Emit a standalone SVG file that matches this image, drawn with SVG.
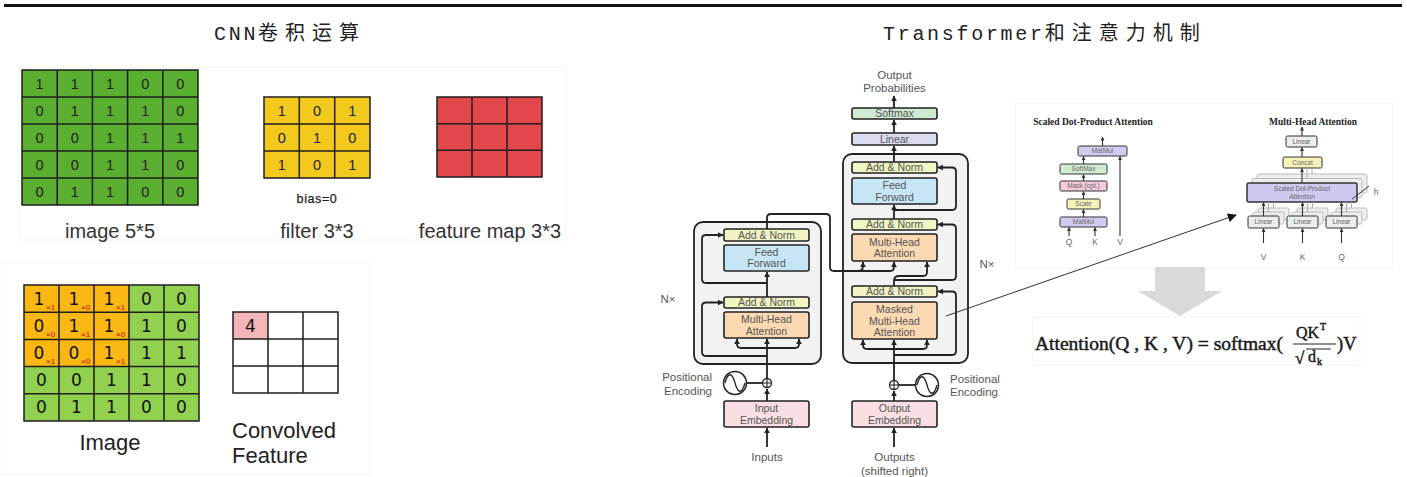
<svg xmlns="http://www.w3.org/2000/svg" width="1407" height="477" viewBox="0 0 1407 477">
<defs>
<marker id="ah" viewBox="0 0 10 10" refX="9" refY="5" markerUnits="userSpaceOnUse" markerWidth="6" markerHeight="6" orient="auto"><path d="M0,0 L10,5 L0,10 z" fill="#222"/></marker>
<marker id="ahs" viewBox="0 0 10 10" refX="9" refY="5" markerUnits="userSpaceOnUse" markerWidth="4" markerHeight="4" orient="auto"><path d="M0,0 L10,5 L0,10 z" fill="#333"/></marker>
<marker id="ahb" viewBox="0 0 10 10" refX="9" refY="5" markerUnits="userSpaceOnUse" markerWidth="11" markerHeight="9" orient="auto"><path d="M0,0 L10,5 L0,10 z" fill="#111"/></marker>
</defs>
<style>
.sans{font-family:"Liberation Sans",Arial,sans-serif}
.title{font-family:"Liberation Mono","Noto Sans CJK SC",monospace;font-size:20px;fill:#222}
.cjk{font-family:"Noto Sans CJK SC",sans-serif;font-size:20px;letter-spacing:7px}
.grid{fill:none;stroke:#1e1e1e;stroke-width:1.5}
.d1{font-family:"Liberation Sans",Arial,sans-serif;font-size:14.5px;fill:#222;text-anchor:middle}
.d2{font-family:"DejaVu Sans",sans-serif;font-size:17px;fill:#111;text-anchor:middle}
.x{font-family:"Liberation Sans",Arial,sans-serif;font-size:8px;fill:#c00000}
.lab{font-family:"Liberation Sans",Arial,sans-serif;font-size:20px;fill:#333;text-anchor:middle}
.big{font-family:"Liberation Sans",Arial,sans-serif;font-size:22px;fill:#222}
.blk{fill:#f2f2f2;stroke:#222;stroke-width:1.8}
.bx{stroke:#222;stroke-width:1.6}
.an{fill:#f1f4c3}
.ff{fill:#c7e6f5}
.mh{fill:#fbd9b2}
.em{fill:#f9dfe4}
.ln{fill:#dcdcf1}
.sm{fill:#cfe9d3}
.tb{font-family:"Liberation Sans",Arial,sans-serif;font-size:10.5px;fill:#555;text-anchor:middle}
.tl{font-family:"Liberation Sans",Arial,sans-serif;font-size:11.5px;fill:#555}
.c{fill:none;stroke:#222;stroke-width:1.8}
.cs{fill:none;stroke:#333;stroke-width:1.1}
.cf{fill:none;stroke:#aaa;stroke-width:1}
.ab{stroke:#333;stroke-width:1}
.sh{fill:#eeeeee;stroke:#bbb;stroke-width:1}
.ta{font-family:"Liberation Sans",Arial,sans-serif;font-size:6.5px;fill:#666;text-anchor:middle}
.tq{font-family:"Liberation Sans",Arial,sans-serif;font-size:8.5px;fill:#666;text-anchor:middle}
.ht{font-family:"Liberation Serif","Times New Roman",serif;font-size:9.5px;font-weight:bold;fill:#222;text-anchor:middle}
.fm{font-family:"Liberation Serif","Times New Roman",serif;fill:#1a1a1a;stroke:#1a1a1a;stroke-width:0.45}
.panel{fill:#fff;stroke:#f3f3f3;stroke-width:1}
</style>
<rect width="1407" height="477" fill="#fff"/>
<line x1="4" y1="5.5" x2="1402" y2="5.5" stroke="#111" stroke-width="3"/>

<!-- faint panels -->
<rect class="panel" x="19" y="67" width="547" height="173"/>
<rect class="panel" x="0" y="262" width="370" height="212"/>
<rect class="panel" x="1015" y="103" width="378" height="165"/>
<rect class="panel" x="1033" y="317" width="327" height="48"/>

<!-- titles -->
<g id="title-cnn"><text class="title" x="214" y="40"><tspan letter-spacing="2.7">CNN</tspan><tspan class="cjk">卷积运算</tspan></text></g>
<g id="title-transformer"><text class="title" x="883" y="40"><tspan letter-spacing="2.7">Transformer</tspan><tspan class="cjk">和注意力机制</tspan></text></g>

<!-- CNN top -->
<g id="image-5x5">
<rect x="22" y="70" width="176" height="135" fill="#5aae30"/>
<path class="grid" d="M22,70 H198 V205 H22 Z M57.2,70 V205 M92.4,70 V205 M127.6,70 V205 M162.8,70 V205 M22,97 H198 M22,124 H198 M22,151 H198 M22,178 H198"/>
<text class="d1" y="89"><tspan x="39.6">1</tspan><tspan x="74.8">1</tspan><tspan x="110">1</tspan><tspan x="145.2">0</tspan><tspan x="180.4">0</tspan></text>
<text class="d1" y="116"><tspan x="39.6">0</tspan><tspan x="74.8">1</tspan><tspan x="110">1</tspan><tspan x="145.2">1</tspan><tspan x="180.4">0</tspan></text>
<text class="d1" y="143"><tspan x="39.6">0</tspan><tspan x="74.8">0</tspan><tspan x="110">1</tspan><tspan x="145.2">1</tspan><tspan x="180.4">1</tspan></text>
<text class="d1" y="170"><tspan x="39.6">0</tspan><tspan x="74.8">0</tspan><tspan x="110">1</tspan><tspan x="145.2">1</tspan><tspan x="180.4">0</tspan></text>
<text class="d1" y="197"><tspan x="39.6">0</tspan><tspan x="74.8">1</tspan><tspan x="110">1</tspan><tspan x="145.2">0</tspan><tspan x="180.4">0</tspan></text>
<text class="lab" x="110" y="238">image 5*5</text>
</g>
<g id="filter-3x3">
<rect x="264" y="97" width="106" height="81" fill="#f4c91e"/>
<path class="grid" d="M264,97 H370 V178 H264 Z M299.3,97 V178 M334.7,97 V178 M264,124 H370 M264,151 H370"/>
<text class="d1" y="116"><tspan x="281.7">1</tspan><tspan x="317">0</tspan><tspan x="352.3">1</tspan></text>
<text class="d1" y="143"><tspan x="281.7">0</tspan><tspan x="317">1</tspan><tspan x="352.3">0</tspan></text>
<text class="d1" y="170"><tspan x="281.7">1</tspan><tspan x="317">0</tspan><tspan x="352.3">1</tspan></text>
<text class="sans" x="317" y="203" font-size="12.5" fill="#222" text-anchor="middle" letter-spacing="0.6" stroke="#222" stroke-width="0.25">bias=0</text>
<text class="lab" x="317" y="238">filter 3*3</text>
</g>
<g id="feature-map-3x3">
<rect x="437" y="97" width="105" height="80" fill="#e2474b"/>
<path class="grid" d="M437,97 H542 V177 H437 Z M472,97 V177 M507,97 V177 M437,123.7 H542 M437,150.3 H542"/>
<text class="lab" x="490" y="238">feature map 3*3</text>
</g>

<!-- CNN bottom -->
<g id="image-conv">
<rect x="24" y="285" width="175" height="136" fill="#92d050"/>
<rect x="24" y="285" width="105" height="81.6" fill="#fbb812"/>
<path class="grid" d="M24,285 H199 V421 H24 Z M59,285 V421 M94,285 V421 M129,285 V421 M164,285 V421 M24,312.2 H199 M24,339.4 H199 M24,366.6 H199 M24,393.8 H199" stroke="#333"/>
<text class="d2" y="304.6"><tspan x="39">1</tspan><tspan x="74">1</tspan><tspan x="109">1</tspan><tspan x="146.5">0</tspan><tspan x="181.5">0</tspan></text>
<text class="d2" y="331.8"><tspan x="39">0</tspan><tspan x="74">1</tspan><tspan x="109">1</tspan><tspan x="146.5">1</tspan><tspan x="181.5">0</tspan></text>
<text class="d2" y="359"><tspan x="39">0</tspan><tspan x="74">0</tspan><tspan x="109">1</tspan><tspan x="146.5">1</tspan><tspan x="181.5">1</tspan></text>
<text class="d2" y="386.2"><tspan x="41.5">0</tspan><tspan x="76.5">0</tspan><tspan x="111.5">1</tspan><tspan x="146.5">1</tspan><tspan x="181.5">0</tspan></text>
<text class="d2" y="413.4"><tspan x="41.5">0</tspan><tspan x="76.5">1</tspan><tspan x="111.5">1</tspan><tspan x="146.5">0</tspan><tspan x="181.5">0</tspan></text>
<text class="x" y="309.5"><tspan x="46">×1</tspan><tspan x="81">×0</tspan><tspan x="116">×1</tspan></text>
<text class="x" y="336.7"><tspan x="46">×0</tspan><tspan x="81">×1</tspan><tspan x="116">×0</tspan></text>
<text class="x" y="363.9"><tspan x="46">×1</tspan><tspan x="81">×0</tspan><tspan x="116">×1</tspan></text>
<text class="big" x="110" y="450" text-anchor="middle">Image</text>
</g>
<g id="convolved-feature">
<rect x="233" y="312" width="105" height="81" fill="#fff"/>
<rect x="233" y="312" width="35" height="27" fill="#f4b5b9"/>
<path class="grid" d="M233,312 H338 V393 H233 Z M268,312 V393 M303,312 V393 M233,339 H338 M233,366 H338" stroke="#333"/>
<text class="d2" x="250.5" y="332">4</text>
<text class="big" x="232" y="438">Convolved</text>
<text class="big" x="232" y="463">Feature</text>
</g>

<!-- Transformer encoder -->
<g id="encoder">
<rect class="blk" x="694" y="222" width="127" height="142" rx="9"/>
<text class="tl" x="668" y="303" text-anchor="middle">N×</text>
</g>
<g id="enc-addnorm-top"><rect class="bx an" x="724" y="229" width="85" height="12" rx="2"/><text class="tb" x="766.5" y="238.8">Add &amp; Norm</text></g>
<g id="enc-feedforward"><rect class="bx ff" x="724" y="245" width="85" height="26" rx="2"/><text class="tb" x="766.5" y="256">Feed</text><text class="tb" x="766.5" y="267">Forward</text></g>
<g id="enc-addnorm-low"><rect class="bx an" x="724" y="297" width="85" height="11" rx="2"/><text class="tb" x="766.5" y="306.3">Add &amp; Norm</text></g>
<g id="enc-mha"><rect class="bx mh" x="724" y="312" width="85" height="26" rx="2"/><text class="tb" x="766.5" y="323">Multi-Head</text><text class="tb" x="766.5" y="334.5">Attention</text></g>
<g id="enc-posenc">
<circle cx="735" cy="383" r="11.5" fill="#fff" stroke="#222" stroke-width="1.5"/>
<path d="M725,383 C728,372 732,372 735,383 C738,394 742,394 745,383" fill="none" stroke="#222" stroke-width="1.3"/>
<text class="tl" x="712" y="381" text-anchor="end">Positional</text>
<text class="tl" x="712" y="395" text-anchor="end">Encoding</text>
</g>
<g id="enc-plus"><circle cx="767" cy="383" r="4.5" fill="#fff" stroke="#222" stroke-width="1.3"/><path d="M762.5,383 H771.5 M767,378.5 V387.5" stroke="#222" stroke-width="1.1"/></g>
<g id="enc-embedding"><rect class="bx em" x="724" y="401" width="85" height="26" rx="2"/><text class="tb" x="766.5" y="412">Input</text><text class="tb" x="766.5" y="423.5">Embedding</text></g>
<g id="enc-inputs"><text class="tl" x="767" y="461" text-anchor="middle">Inputs</text></g>

<!-- Transformer decoder -->
<g id="decoder">
<rect class="blk" x="843" y="154" width="125" height="209" rx="9"/>
<text class="tl" x="987" y="268" text-anchor="middle">N×</text>
</g>
<g id="dec-output-prob"><text class="tl" x="894.5" y="79" text-anchor="middle">Output</text><text class="tl" x="894.5" y="92" text-anchor="middle">Probabilities</text></g>
<g id="dec-softmax"><rect class="bx sm" x="852" y="108" width="85" height="11" rx="2"/><text class="tb" x="894.5" y="117.3">Softmax</text></g>
<g id="dec-linear"><rect class="bx ln" x="852" y="133" width="85" height="12" rx="2"/><text class="tb" x="894.5" y="142.8">Linear</text></g>
<g id="dec-addnorm-top"><rect class="bx an" x="852" y="162" width="85" height="11" rx="2"/><text class="tb" x="894.5" y="171.3">Add &amp; Norm</text></g>
<g id="dec-feedforward"><rect class="bx ff" x="852" y="178" width="85" height="26" rx="2"/><text class="tb" x="894.5" y="189">Feed</text><text class="tb" x="894.5" y="200.5">Forward</text></g>
<g id="dec-addnorm-mid"><rect class="bx an" x="852" y="219" width="85" height="11" rx="2"/><text class="tb" x="894.5" y="228.3">Add &amp; Norm</text></g>
<g id="dec-mha"><rect class="bx mh" x="852" y="234" width="85" height="27" rx="2"/><text class="tb" x="894.5" y="245.5">Multi-Head</text><text class="tb" x="894.5" y="257">Attention</text></g>
<g id="dec-addnorm-low"><rect class="bx an" x="852" y="286" width="85" height="11" rx="2"/><text class="tb" x="894.5" y="295.3">Add &amp; Norm</text></g>
<g id="dec-masked-mha"><rect class="bx mh" x="852" y="302" width="85" height="37" rx="2"/><text class="tb" x="894.5" y="313">Masked</text><text class="tb" x="894.5" y="324.5">Multi-Head</text><text class="tb" x="894.5" y="336">Attention</text></g>
<g id="dec-plus"><circle cx="894" cy="385" r="4.5" fill="#fff" stroke="#222" stroke-width="1.3"/><path d="M889.5,385 H898.5 M894,380.5 V389.5" stroke="#222" stroke-width="1.1"/></g>
<g id="dec-posenc">
<circle cx="927" cy="385" r="11.5" fill="#fff" stroke="#222" stroke-width="1.5"/>
<path d="M917,385 C920,374 924,374 927,385 C930,396 934,396 937,385" fill="none" stroke="#222" stroke-width="1.3"/>
<text class="tl" x="950" y="383">Positional</text>
<text class="tl" x="950" y="396">Encoding</text>
</g>
<g id="dec-embedding"><rect class="bx em" x="852" y="401" width="85" height="26" rx="2"/><text class="tb" x="894.5" y="412">Output</text><text class="tb" x="894.5" y="423.5">Embedding</text></g>
<g id="dec-outputs"><text class="tl" x="894.5" y="461" text-anchor="middle">Outputs</text><text class="tl" x="894.5" y="475" text-anchor="middle">(shifted right)</text></g>

<!-- Scaled dot-product attention -->
<g id="sdpa-title"><text class="ht" x="1093" y="125">Scaled Dot-Product Attention</text></g>
<g id="sdpa-matmul-top"><rect class="ab" x="1078" y="146" width="49" height="10" rx="1.5" fill="#d2cbef"/><text class="ta" x="1102.5" y="153.3">MatMul</text></g>
<g id="sdpa-softmax"><rect class="ab" x="1060" y="164" width="47" height="10" rx="1.5" fill="#d1ebd3"/><text class="ta" x="1083.5" y="171.3">SoftMax</text></g>
<g id="sdpa-mask"><rect class="ab" x="1060" y="181" width="47" height="10" rx="1.5" fill="#f4c9dd"/><text class="ta" x="1083.5" y="188.3">Mask (opt.)</text></g>
<g id="sdpa-scale"><rect class="ab" x="1067" y="199" width="33" height="10" rx="1.5" fill="#f7f2ba"/><text class="ta" x="1083.5" y="206.3">Scale</text></g>
<g id="sdpa-matmul-bottom"><rect class="ab" x="1060" y="217" width="47" height="10" rx="1.5" fill="#d2cbef"/><text class="ta" x="1083.5" y="224.3">MatMul</text></g>
<g id="sdpa-inputs"><text class="tq" x="1069" y="245">Q</text><text class="tq" x="1095" y="245">K</text><text class="tq" x="1120" y="245">V</text></g>

<!-- Multi-head attention -->
<g id="mha-title"><text class="ht" x="1313" y="125">Multi-Head Attention</text></g>
<g id="mha-linear-top"><rect class="ab" x="1286" y="136" width="31" height="11" rx="1.5" fill="#e9edec"/><text class="ta" x="1301.5" y="143.8">Linear</text></g>
<g id="mha-concat"><rect class="ab" x="1283" y="157" width="39" height="11" rx="1.5" fill="#f7f2ba"/><text class="ta" x="1302.5" y="164.8">Concat</text></g>
<g id="mha-sdpa">
<rect class="sh" x="1257" y="174" width="110" height="19" rx="2"/>
<rect class="sh" x="1252" y="178.5" width="110" height="19" rx="2"/>
<rect x="1247" y="183" width="110" height="19" rx="2" fill="#d0c8ee" stroke="#333" stroke-width="1.5"/>
<text class="ta" x="1302" y="190.5">Scaled Dot-Product</text>
<text class="ta" x="1302" y="198.5">Attention</text>
<path d="M1352,199 L1369,186" stroke="#333" stroke-width="1"/>
<text class="tq" x="1376" y="195">h</text>
</g>
<g id="mha-linear-v">
<rect class="sh" x="1258" y="208" width="31" height="12" rx="1.5"/><rect class="sh" x="1253" y="212" width="31" height="12" rx="1.5"/>
<rect class="ab" x="1248" y="216" width="31" height="12" rx="1.5" fill="#e9edec"/><text class="ta" x="1263.5" y="224.3">Linear</text></g>
<g id="mha-linear-k">
<rect class="sh" x="1297" y="208" width="31" height="12" rx="1.5"/><rect class="sh" x="1292" y="212" width="31" height="12" rx="1.5"/>
<rect class="ab" x="1287" y="216" width="31" height="12" rx="1.5" fill="#e9edec"/><text class="ta" x="1302.5" y="224.3">Linear</text></g>
<g id="mha-linear-q">
<rect class="sh" x="1336" y="208" width="31" height="12" rx="1.5"/><rect class="sh" x="1331" y="212" width="31" height="12" rx="1.5"/>
<rect class="ab" x="1326" y="216" width="31" height="12" rx="1.5" fill="#e9edec"/><text class="ta" x="1341.5" y="224.3">Linear</text></g>
<g id="mha-inputs"><text class="tq" x="1263.5" y="260">V</text><text class="tq" x="1302.5" y="260">K</text><text class="tq" x="1341.5" y="260">Q</text></g>

<!-- down arrow and formula -->
<g id="down-arrow"><polygon points="1155,267 1205,267 1205,291 1222,291 1180,316 1138,291 1155,291" fill="#d9d9d9"/></g>
<g id="formula">
<text class="fm" x="1035" y="350" font-size="18.5" textLength="248" lengthAdjust="spacingAndGlyphs">Attention(Q , K , V) = softmax(</text>
<text class="fm" x="1296" y="338" font-size="16">QK</text>
<text class="fm" x="1320" y="330" font-size="10" stroke-width="0.3">T</text>
<line x1="1293" y1="344" x2="1336" y2="344" stroke="#222" stroke-width="1.2"/>
<text class="fm" x="1295" y="364" font-size="17">√</text>
<line x1="1306" y1="349" x2="1331" y2="349" stroke="#222" stroke-width="1"/>
<text class="fm" x="1308" y="362" font-size="16">d</text>
<text class="fm" x="1317" y="365" font-size="10" stroke-width="0.3">k</text>
<text class="fm" x="1337" y="350" font-size="18.5">)V</text>
</g>

<!-- connectors -->
<g id="connectors">
<!-- encoder -->
<path class="c" d="M767,447 V428" marker-end="url(#ah)"/>
<path class="c" d="M767,401 V389" marker-end="url(#ah)"/>
<path class="c" d="M767,378.5 V339" marker-end="url(#ah)"/>
<path class="c" d="M767,348 H741 Q737,348 737,344 V339" marker-end="url(#ah)"/>
<path class="c" d="M767,348 H795 Q799,348 799,344 V339" marker-end="url(#ah)"/>
<path class="c" d="M767,356 H706 Q702,356 702,352 V306.5 Q702,302.5 706,302.5 H723" marker-end="url(#ah)"/>
<path class="c" d="M767,297 V272" marker-end="url(#ah)"/>
<path class="c" d="M767,283 H706 Q702,283 702,279 V239 Q702,235 706,235 H723" marker-end="url(#ah)"/>
<path class="c" d="M767,229 V218 Q767,214 771,214 H826 Q830,214 830,218 V267 Q830,271 834,271 H890 Q894,271 894,267 V262" marker-end="url(#ah)"/>
<path class="c" d="M858,271 Q863,271 863,266 V262" marker-end="url(#ah)"/>
<path class="c" d="M746.5,383 H762.5"/>
<!-- decoder -->
<path class="c" d="M894,447 V428" marker-end="url(#ah)"/>
<path class="c" d="M894,401 V391" marker-end="url(#ah)"/>
<path class="c" d="M894,380.5 V340" marker-end="url(#ah)"/>
<path class="c" d="M894,349 H867 Q863,349 863,345 V340" marker-end="url(#ah)"/>
<path class="c" d="M894,349 H923 Q927,349 927,345 V340" marker-end="url(#ah)"/>
<path class="c" d="M894,355 H952 Q956,355 956,351 V295.5 Q956,291.5 952,291.5 H938" marker-end="url(#ah)"/>
<path class="c" d="M894,286 V281 Q894,276 899,276 H923 Q927,276 927,272 V262" marker-end="url(#ah)"/>
<path class="c" d="M894,280 H952 Q956,280 956,276 V228.5 Q956,224.5 952,224.5 H938" marker-end="url(#ah)"/>
<path class="c" d="M894,219 V205" marker-end="url(#ah)"/>
<path class="c" d="M894,210 H952 Q956,210 956,206 V171.5 Q956,167.5 952,167.5 H938" marker-end="url(#ah)"/>
<path class="c" d="M894,162 V146" marker-end="url(#ah)"/>
<path class="c" d="M894,133 V120" marker-end="url(#ah)"/>
<path class="c" d="M894,108 V96" marker-end="url(#ah)"/>
<path class="c" d="M898.5,385 H915.5"/>
<!-- link to multi-head attention -->
<path d="M946,316 L1236,215" fill="none" stroke="#333" stroke-width="1" marker-end="url(#ahb)"/>
<!-- scaled dot-product attention -->
<path class="cs" d="M1102.5,146 V137" marker-end="url(#ahs)"/>
<path class="cs" d="M1083.5,164 V156.5" marker-end="url(#ahs)"/>
<path class="cs" d="M1083.5,181 V174.5" marker-end="url(#ahs)"/>
<path class="cs" d="M1083.5,199 V191.5" marker-end="url(#ahs)"/>
<path class="cs" d="M1083.5,217 V209.5" marker-end="url(#ahs)"/>
<path class="cs" d="M1069,236 V227.5" marker-end="url(#ahs)"/>
<path class="cs" d="M1095,236 V227.5" marker-end="url(#ahs)"/>
<path class="cs" d="M1120,236 V156.5" marker-end="url(#ahs)"/>
<!-- multi-head attention -->
<path class="cs" d="M1302,136 V127" marker-end="url(#ahs)"/>
<path class="cs" d="M1302,157 V147.5" marker-end="url(#ahs)"/>
<path class="cs" d="M1302,183 V168.5" marker-end="url(#ahs)"/>
<path class="cf" d="M1307,178 V168.5 M1312,174 V168.5"/>
<path class="cs" d="M1263.5,216 V202.5" marker-end="url(#ahs)"/>
<path class="cs" d="M1302.5,216 V202.5" marker-end="url(#ahs)"/>
<path class="cs" d="M1341.5,216 V202.5" marker-end="url(#ahs)"/>
<path class="cf" d="M1268.5,212 V202 M1273.5,208 V202 M1307.5,212 V202 M1312.5,208 V202 M1346.5,212 V202 M1351.5,208 V202"/>
<path class="cs" d="M1263.5,243 V228.5" marker-end="url(#ahs)"/>
<path class="cs" d="M1302.5,243 V228.5" marker-end="url(#ahs)"/>
<path class="cs" d="M1341.5,243 V228.5" marker-end="url(#ahs)"/>
</g>
</svg>
